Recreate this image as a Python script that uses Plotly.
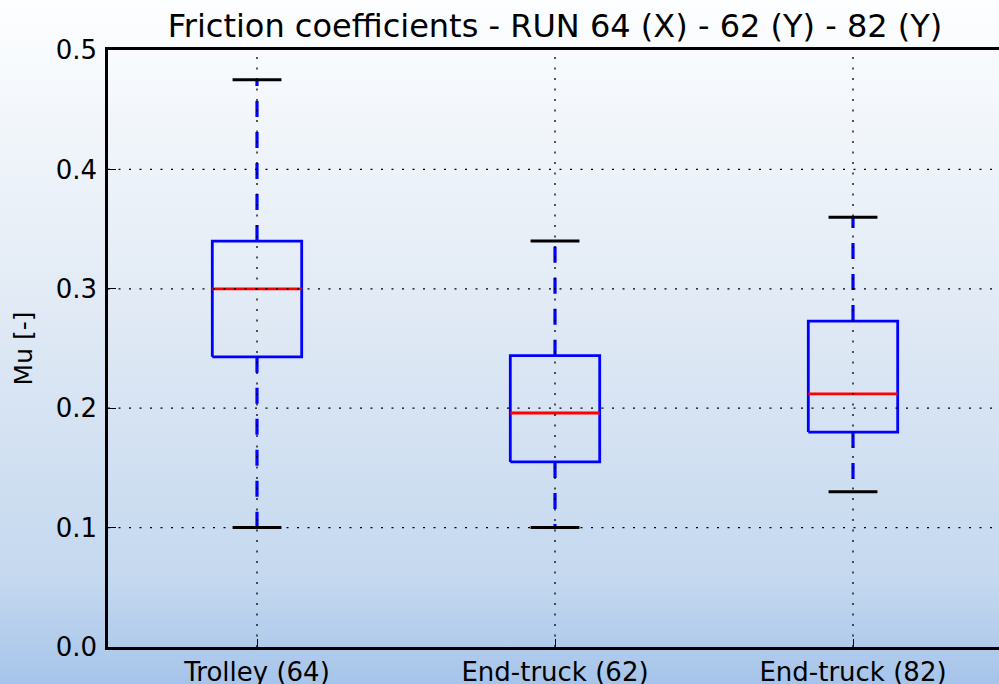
import base64
import plotly.graph_objects as go

categories = ["Trolley (64)", "End-truck (62)", "End-truck (82)"]
lower_whisker = [0.100, 0.100, 0.130]
q1 = [0.243, 0.155, 0.180]
median = [0.300, 0.196, 0.212]
q3 = [0.340, 0.244, 0.273]
upper_whisker = [0.475, 0.340, 0.360]
y_ticks = [0.0, 0.1, 0.2, 0.3, 0.4, 0.5]

positions = list(range(1, len(categories) + 1))
BOX_HALF = 0.15
CAP_HALF = 0.082
FONT = "DejaVu Sans"

fig = go.Figure()

for i, p in enumerate(positions):
    # whiskers (dashed blue)
    for a, b in [(lower_whisker[i], q1[i]), (upper_whisker[i], q3[i])]:
        fig.add_trace(go.Scatter(x=[p, p], y=[b, a], mode="lines",
                                 line=dict(color="#0000ff", width=3.2, dash="16px,15px"),
                                 hoverinfo="skip", showlegend=False))
    # caps (black)
    for v in (lower_whisker[i], upper_whisker[i]):
        fig.add_trace(go.Scatter(x=[p - CAP_HALF, p + CAP_HALF], y=[v, v], mode="lines",
                                 line=dict(color="black", width=3),
                                 hoverinfo="skip", showlegend=False))
    # box
    fig.add_trace(go.Scatter(
        x=[p - BOX_HALF, p + BOX_HALF, p + BOX_HALF, p - BOX_HALF, p - BOX_HALF],
        y=[q1[i], q1[i], q3[i], q3[i], q1[i]], mode="lines",
        line=dict(color="#0000ff", width=2.8), name=categories[i], showlegend=False))
    # median
    fig.add_trace(go.Scatter(x=[p - BOX_HALF, p + BOX_HALF], y=[median[i], median[i]],
                             mode="lines", line=dict(color="#ff0000", width=2.8),
                             hoverinfo="skip", showlegend=False))

# dotted grid drawn on top, like the reference
for p in positions:
    fig.add_trace(go.Scatter(x=[p, p], y=[y_ticks[0], y_ticks[-1]], mode="lines",
                             line=dict(color="black", width=1.3, dash="2px,8.5px"),
                             hoverinfo="skip", showlegend=False))
for t in y_ticks[1:-1]:
    fig.add_trace(go.Scatter(x=[0.5, 3.5], y=[t, t], mode="lines",
                             line=dict(color="black", width=1.3, dash="2px,8.5px"),
                             hoverinfo="skip", showlegend=False))

svg = ('<svg xmlns="http://www.w3.org/2000/svg" width="999" height="684">'
       '<defs><linearGradient id="g" x1="0" y1="0" x2="0" y2="1">'
       '<stop offset="0" stop-color="#fdfeff"/>'
       '<stop offset="0.45" stop-color="#e1eaf5"/>'
       '<stop offset="0.85" stop-color="#c4d8ef"/>'
       '<stop offset="1" stop-color="#a6c4ea"/>'
       '</linearGradient></defs>'
       '<rect width="999" height="684" fill="url(#g)"/></svg>')
src = "data:image/svg+xml;base64," + base64.b64encode(svg.encode()).decode()

W, H = 999, 684
ML, MR, MT, MB = 108, 0, 50, 37
pw, ph = W - ML - MR, H - MT - MB
PX_PER_UNIT = 298.0

fig.update_layout(
    width=W, height=H,
    margin=dict(l=ML, r=MR, t=MT, b=MB, pad=0),
    paper_bgcolor="rgba(0,0,0,0)",
    plot_bgcolor="rgba(0,0,0,0)",
    font=dict(family=FONT, size=26, color="black"),
    title=dict(text="Friction coefficients - RUN 64 (X) - 62 (Y) - 82 (Y)",
               x=(ML + 0.5 * 3 * PX_PER_UNIT) / W, xanchor="center",
               y=1 - 26 / H, yanchor="middle",
               font=dict(family=FONT, size=32, color="black")),
    images=[dict(source=src, xref="paper", yref="paper",
                 x=-ML / pw, y=1 + MT / ph, sizex=W / pw, sizey=H / ph,
                 xanchor="left", yanchor="top", sizing="stretch", layer="below")],
    xaxis=dict(range=[0.5, 0.5 + pw / PX_PER_UNIT], tickmode="array", tickvals=positions,
               ticktext=categories, showgrid=False, zeroline=False, automargin=False,
               showline=True, linecolor="black", linewidth=2.5, mirror=True,
               ticks="inside", ticklen=8, tickcolor="black", tickwidth=1.3,
               tickfont=dict(family=FONT, size=26, color="black")),
    yaxis=dict(range=[0, 0.5], tickmode="array", tickvals=y_ticks,
               ticktext=[f"{t:.1f}" for t in y_ticks], showgrid=False, zeroline=False,
               automargin=False, ticklabelstandoff=3,
               showline=True, linecolor="black", linewidth=2.5, mirror=True,
               ticks="inside", ticklen=8, tickcolor="black", tickwidth=1.3,
               tickfont=dict(family=FONT, size=26, color="black"),
               title=dict(text="Mu [-]", font=dict(family=FONT, size=25, color="black"),
                          standoff=16)),
)

fig.write_html("out.html", config={"displayModeBar": False},
               post_script="document.body.style.margin='0';document.body.style.padding='0';")
